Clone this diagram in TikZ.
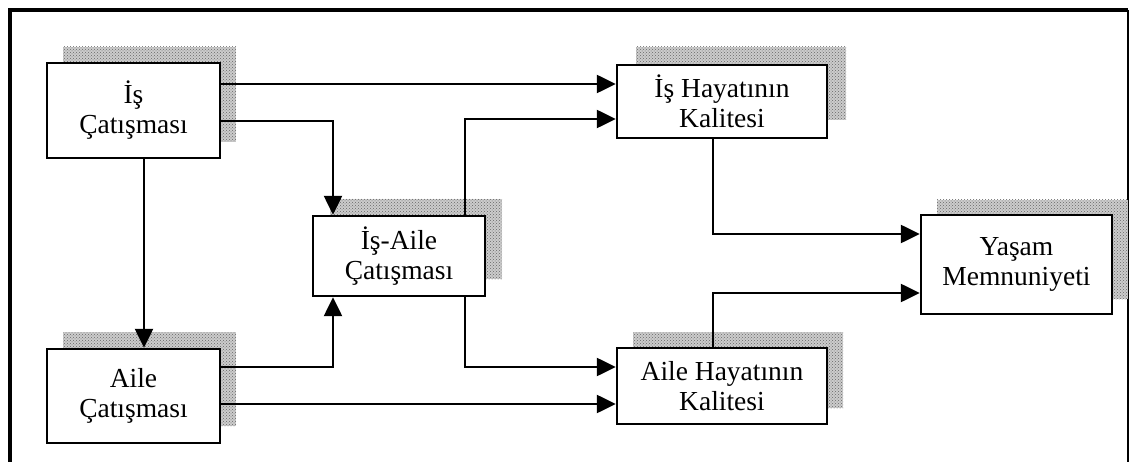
\documentclass[tikz,border=0pt]{standalone}
\usepackage{fontspec}
\setmainfont{Liberation Serif}
\usetikzlibrary{arrows.meta,patterns,calc}
\begin{document}
\begin{tikzpicture}[x=1pt,y=-1pt,
  boxnode/.style={draw=black,line width=2.4pt,fill=white,align=center,inner sep=0pt,
    font=\fontsize{27.5}{30}\selectfont},
  shadowfill/.style={fill=gray!40,postaction={pattern=crosshatch dots,pattern color=black!60}},
  arr/.style={line width=2.4pt,-{Triangle[length=19pt,width=18pt]}},
  frameline/.style={line width=4pt}]
\useasboundingbox (0,0) rectangle (1129,462);
% frame
\draw[frameline] (10,462) -- (10,10) -- (1128,10);
\draw[line width=1.2pt] (1128,10) -- (1128,462);
% shadows
\fill[shadowfill] (63,47) rectangle (236,142);
\fill[shadowfill] (63,332) rectangle (236,426);
\fill[shadowfill] (330,199) rectangle (502,279);
\fill[shadowfill] (636,47) rectangle (846,120);
\fill[shadowfill] (633,332) rectangle (843,408);
\fill[shadowfill] (937,200) rectangle (1128,299);
% nodes
\node[boxnode,minimum width=173pt,minimum height=95pt] (isc) at (133.5,110.5) {İş\\Çatışması};
\node[boxnode,minimum width=173pt,minimum height=94pt] (ac) at (133.5,396) {Aile\\Çatışması};
\node[boxnode,minimum width=172pt,minimum height=80pt] (ia) at (399,256) {İş-Aile\\Çatışması};
\node[boxnode,minimum width=210pt,minimum height=73pt] (ihk) at (722,101.5) {İş Hayatının\\Kalitesi};
\node[boxnode,minimum width=210pt,minimum height=76pt] (ahk) at (722,386) {Aile Hayatının\\Kalitesi};
\node[boxnode,minimum width=191pt,minimum height=99pt] (ym) at (1016.5,264.5) {Yaşam\\Memnuniyeti};
% connectors
\draw[arr] (isc.east |- {(0,84)}) -- (ihk.west |- {(0,84)});
\draw[arr] (isc.east |- {(0,121)}) -| (ia.north -| {(333,0)});
\draw[arr] (isc.south -| {(144,0)}) -- (ac.north -| {(144,0)});
\draw[arr] (ac.east |- {(0,367)}) -| (ia.south -| {(333,0)});
\draw[arr] (ac.east |- {(0,404)}) -- (ahk.west |- {(0,404)});
\draw[arr] (ia.north -| {(465,0)}) |- (ihk.west |- {(0,119)});
\draw[arr] (ia.south -| {(465,0)}) |- (ahk.west |- {(0,367)});
\draw[arr] (ihk.south -| {(713,0)}) |- (ym.west |- {(0,234)});
\draw[arr] (ahk.north -| {(713,0)}) |- (ym.west |- {(0,293)});
\end{tikzpicture}
\end{document}
